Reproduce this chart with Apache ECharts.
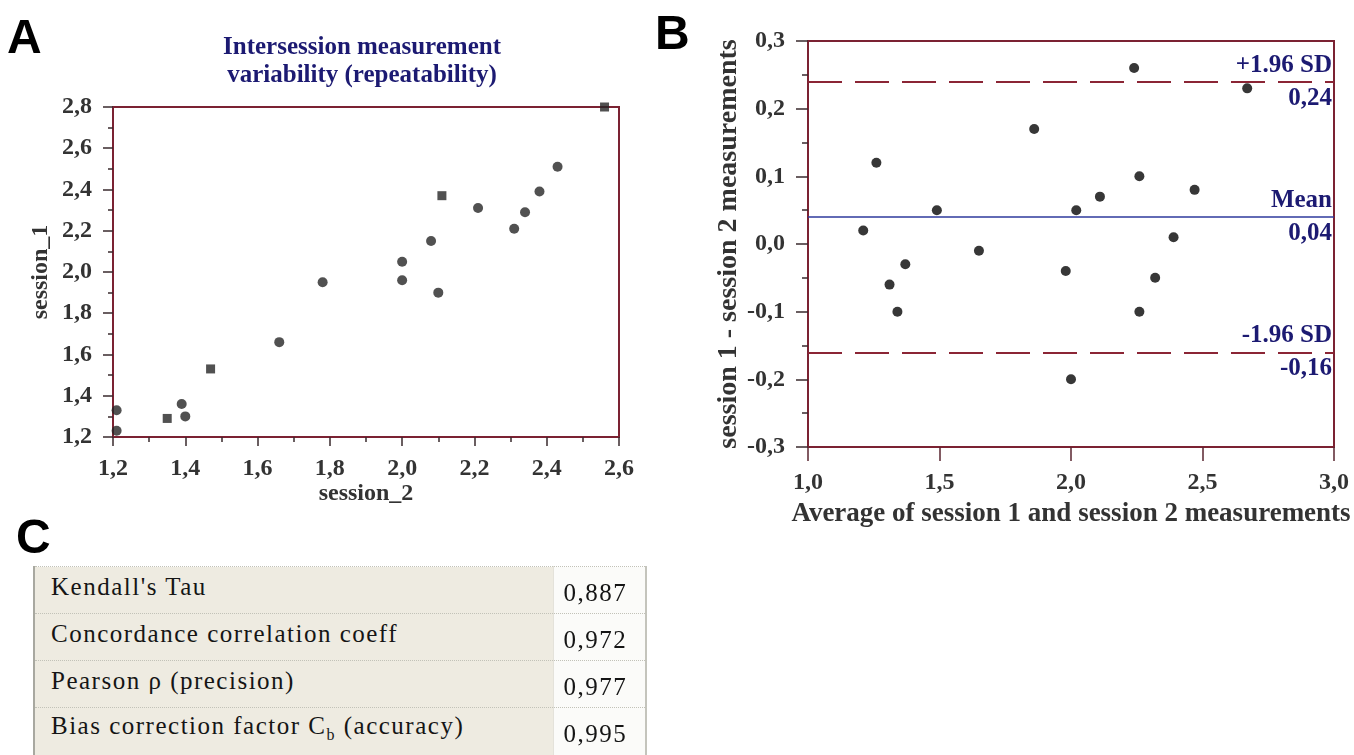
<!DOCTYPE html>
<html>
<head>
<meta charset="utf-8">
<script src="https://cdn.jsdelivr.net/npm/echarts@6/dist/echarts.min.js"></script>
<style>
    html, body { margin: 0; padding: 0; background: #fff; overflow: hidden; }
    #chart { position: absolute; left: 0; top: 0; width: 1354px; height: 755px; }
    .panel-letter {
        position: absolute;
        font-family: "Liberation Sans", Arial, sans-serif;
        font-weight: bold;
        font-size: 48px;
        line-height: 48px;
        color: #000;
    }
    #stats {
        position: absolute;
        left: 33px;
        top: 566px;
        width: 614px;
        border-collapse: collapse;
        border-left: 2px solid #a8a8a0;
        border-right: 2px solid #c4c4bc;
        font-family: "Liberation Serif", "Times New Roman", serif;
        font-size: 25px;
        letter-spacing: 1.5px;
        color: #151515;
    }
    #stats td {
        height: 47px;
        box-sizing: border-box;
        border-top: 1px dotted #c2c2b8;
        vertical-align: middle;
        padding: 0;
        white-space: nowrap;
    }
    #stats td span { position: relative; }
    #stats td.lbl { background: #eeebe1; width: 519px; padding-left: 16px; }
    #stats td.lbl span { top: -3px; }
    #stats td.val { background: #fbfbf9; padding-left: 10px; border-left: 1px solid #e4e2da; }
    #stats td.val span { top: 3px; }
</style>
</head>
<body>
<div id="chart"></div>
<div class="panel-letter" style="left:7px; top:13px;">A</div>
<div class="panel-letter" style="left:655px; top:9px;">B</div>
<div class="panel-letter" style="left:16px; top:513px;">C</div>
<table id="stats"></table>
<script>
// A: session_2 (x) vs session_1 (y)
const dotSession2 = [1.21, 1.21, 1.39, 1.40, 1.66, 1.78, 2.00, 2.00, 2.08, 2.10, 2.21, 2.31, 2.34, 2.38, 2.43];
const dotSession1 = [1.33, 1.23, 1.36, 1.30, 1.66, 1.95, 2.05, 1.96, 2.15, 1.90, 2.31, 2.21, 2.29, 2.39, 2.51];
const squareSession2 = [1.35, 1.47, 2.11, 2.56];
const squareSession1 = [1.29, 1.53, 2.37, 2.80];

// B: Bland-Altman
const averages = [1.21, 1.26, 1.31, 1.34, 1.37, 1.49, 1.65, 1.86, 1.98, 2.00, 2.02, 2.11, 2.24, 2.26, 2.26, 2.32, 2.39, 2.47, 2.67];
const differences = [0.02, 0.12, -0.06, -0.10, -0.03, 0.05, -0.01, 0.17, -0.04, -0.20, 0.05, 0.07, 0.26, 0.10, -0.10, -0.05, 0.01, 0.08, 0.23];
const meanDiff = 0.037;
const upperLimit = 0.24;
const lowerLimit = -0.16;
const limitLabels = ['+1.96 SD', 'Mean', '-1.96 SD'];
const limitValueLabels = ['0,24', '0,04', '-0,16'];

// C: statistics table
const statLabels = ["Kendall's Tau", 'Concordance correlation coeff', 'Pearson \u03c1 (precision)', 'Bias correction factor C<sub style="font-size:16px">b</sub> (accuracy)'];
const statValues = ['0,887', '0,972', '0,977', '0,995'];

const SERIF = '"Liberation Serif", "Times New Roman", serif';
const FRAME = '#7b2232';
const NAVY = '#1c1a72';
const comma = v => v.toFixed(1).replace('.', ',');

function axisStyle(extra) {
    return Object.assign({
        type: 'value',
        splitLine: { show: false },
        axisLine: { show: true, onZero: false, lineStyle: { color: FRAME, width: 2 } },
        axisTick: { show: true, length: 9, lineStyle: { color: '#3a2a2e', width: 1.5 } },
        axisLabel: { formatter: comma, fontFamily: SERIF, fontWeight: 'bold', fontSize: 24, color: '#333' },
        nameTextStyle: { fontFamily: SERIF, fontWeight: 'bold', fontSize: 24, color: '#333' },
        nameLocation: 'middle'
    }, extra);
}

const labelFont = { fontFamily: SERIF, fontWeight: 'bold', fontSize: 25, color: NAVY };

function limitLine(value, top, bottom, style) {
    return [
        { yAxis: value, lineStyle: style,
          label: Object.assign({ show: true, formatter: top, position: 'insideEndTop', distance: [2, 4] }, labelFont) },
        { yAxis: value, lineStyle: { color: 'rgba(0,0,0,0)', width: 1, type: 'solid' },
          label: Object.assign({ show: true, formatter: bottom, position: 'insideEndBottom', distance: [2, 4] }, labelFont) }
    ];
}

const dashStyle = { color: '#8b2535', width: 2, type: [34, 13] };
const meanStyle = { color: '#2e3a9c', width: 1.5, type: 'solid' };

const chart = echarts.init(document.getElementById('chart'), null, { renderer: 'canvas' });
chart.setOption({
    animation: false,
    backgroundColor: '#fff',
    graphic: [{
        type: 'text', x: 362, y: 34,
        style: {
            text: 'Intersession measurement\nvariability (repeatability)',
            textAlign: 'center', font: 'bold 25px ' + SERIF, fill: NAVY, lineHeight: 28
        }
    }],
    grid: [
        { left: 113, top: 107, width: 506, height: 330, show: true, borderColor: FRAME, borderWidth: 2, backgroundColor: '#fff' },
        { left: 808, top: 41, width: 526, height: 406, show: true, borderColor: FRAME, borderWidth: 2, backgroundColor: '#fff' }
    ],
    xAxis: [
        axisStyle({
            gridIndex: 0, min: 1.2, max: 2.6, interval: 0.2,
            minorTick: { show: true, splitNumber: 2, length: 5, lineStyle: { color: '#3a2a2e', width: 1.5 } },
            axisLabel: Object.assign({}, axisStyle().axisLabel, { margin: 20 }),
            name: 'session_2', nameGap: 43
        }),
        axisStyle({
            gridIndex: 1, min: 1, max: 3, interval: 0.5,
            axisTick: { show: true, length: 14, lineStyle: { color: '#5a2630', width: 1.5 } },
            axisLabel: Object.assign({}, axisStyle().axisLabel, { margin: 24 }),
            name: 'Average of session 1 and session 2 measurements', nameGap: 54,
            nameTextStyle: { fontFamily: SERIF, fontWeight: 'bold', fontSize: 27, color: '#333' }
        })
    ],
    yAxis: [
        axisStyle({
            gridIndex: 0, min: 1.2, max: 2.8, interval: 0.2,
            axisTick: { show: true, length: 10, lineStyle: { color: '#3a2a2e', width: 1.5 } },
            minorTick: { show: true, splitNumber: 2, length: 5, lineStyle: { color: '#3a2a2e', width: 1.5 } },
            axisLabel: Object.assign({}, axisStyle().axisLabel, { margin: 21 }),
            name: 'session_1', nameGap: 60
        }),
        axisStyle({
            gridIndex: 1, min: -0.3, max: 0.3, interval: 0.1,
            axisTick: { show: true, length: 12, lineStyle: { color: '#3a2a2e', width: 1.5 } },
            minorTick: { show: true, splitNumber: 2, length: 6, lineStyle: { color: '#3a2a2e', width: 1.5 } },
            axisLabel: Object.assign({}, axisStyle().axisLabel, { margin: 23 }),
            name: 'session 1 - session 2 measurements', nameGap: 64,
            nameTextStyle: { fontFamily: SERIF, fontWeight: 'bold', fontSize: 28, color: '#333' }
        })
    ],
    series: [
        {
            type: 'scatter', xAxisIndex: 0, yAxisIndex: 0,
            symbol: 'circle', symbolSize: 10,
            itemStyle: { color: '#262626' },
            data: dotSession2.map((x, i) => [x, dotSession1[i]])
        },
        {
            type: 'scatter', xAxisIndex: 0, yAxisIndex: 0,
            symbol: 'rect', symbolSize: 9,
            itemStyle: { color: '#262626' },
            data: squareSession2.map((x, i) => [x, squareSession1[i]])
        },
        {
            type: 'scatter', xAxisIndex: 1, yAxisIndex: 1,
            symbol: 'circle', symbolSize: 10,
            itemStyle: { color: '#050505' },
            data: averages.map((x, i) => [x, differences[i]]),
            markLine: {
                silent: true,
                symbol: ['none', 'none'],
                data: [].concat(
                    limitLine(upperLimit, limitLabels[0], limitValueLabels[0], dashStyle),
                    limitLine(meanDiff, limitLabels[1], limitValueLabels[1], meanStyle),
                    limitLine(lowerLimit, limitLabels[2], limitValueLabels[2], dashStyle)
                )
            }
        }
    ]
});

// statistics table
document.getElementById('stats').innerHTML = statLabels.map((label, i) =>
    `<tr><td class="lbl"><span>${label}</span></td><td class="val"><span>${statValues[i]}</span></td></tr>`
).join('');
</script>
</body>
</html>
